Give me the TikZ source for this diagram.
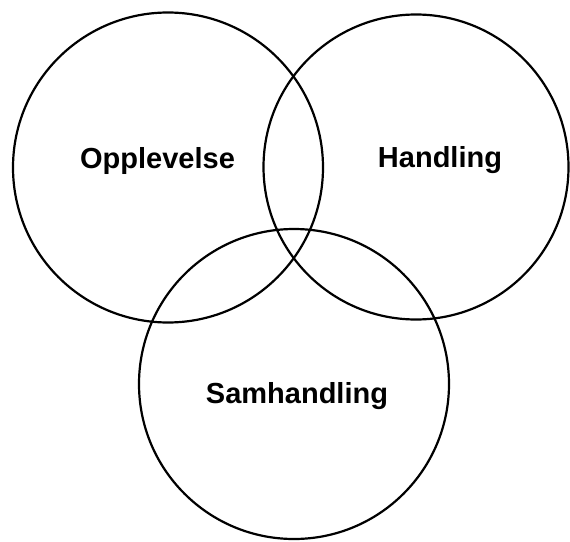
\documentclass[tikz,border=0pt]{standalone}
\usepackage{fontspec}
\setmainfont{Liberation Sans}
\begin{document}
\begin{tikzpicture}[x=1pt,y=-1pt,
  ring/.style={circle,draw=black,line width=2.2pt,inner sep=0pt,minimum size=#1},
  lbl/.style={font=\fontsize{29}{30}\selectfont\bfseries,anchor=base,inner sep=0pt}]
\useasboundingbox (0,0) rectangle (570,541);
\node[ring=310pt] (c1) at (168,167.5) {};
\node[ring=305pt] (c2) at (416,167) {};
\node[ring=310pt] (c3) at (294,384) {};
\node[lbl] (t1) at (157.5,168) {Opplevelse};
\node[lbl] (t2) at (440,167.5) {Handling};
\node[lbl] (t3) at (297,403) {Samhandling};
\end{tikzpicture}
\end{document}
